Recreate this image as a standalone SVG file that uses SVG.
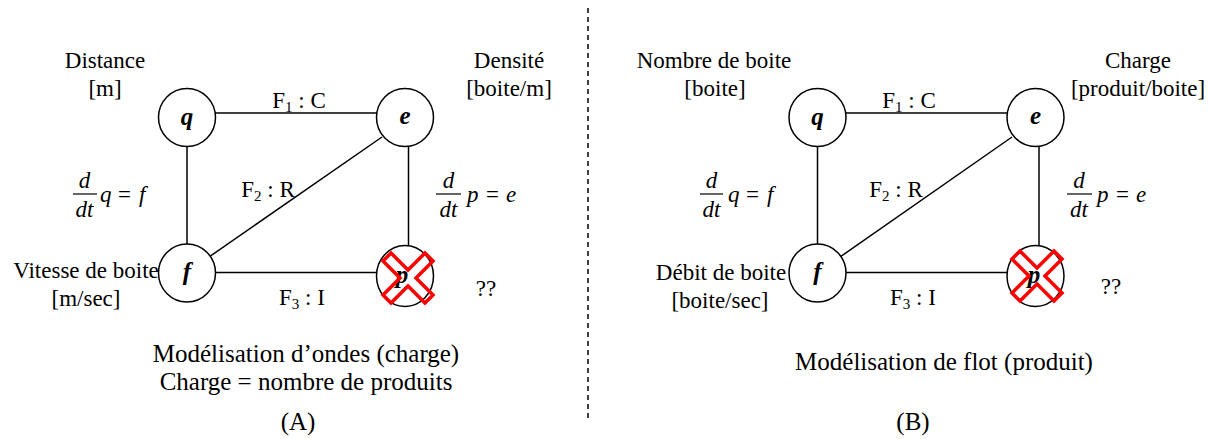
<svg xmlns="http://www.w3.org/2000/svg" width="1209" height="439" viewBox="0 0 1209 439">
<style>
text{font-family:"Liberation Serif","Times New Roman",serif;fill:#000}
.t{font-size:23px;text-anchor:middle}
.cap{font-size:25px;text-anchor:middle}
.n{font-size:25px;font-weight:bold;font-style:italic;text-anchor:middle}
.m{font-size:23px;font-style:italic}
.eq{font-size:23px}
.node{fill:#fff;stroke:#000;stroke-width:1.5}
.edge{stroke:#000;stroke-width:1.5;fill:none}
.x{fill:none;stroke:#ff0000;stroke-width:3.5;stroke-linejoin:miter}
.bar{stroke:#000;stroke-width:1.2}
</style>
<rect width="1209" height="439" fill="#fff"/>
<g id="connectors">
<line class="edge" x1="215" y1="113" x2="377" y2="113"/>
<line class="edge" x1="187" y1="147" x2="187" y2="245"/>
<line class="edge" x1="408.5" y1="146" x2="408.5" y2="246"/>
<line class="edge" x1="209" y1="257" x2="382" y2="137"/>
<line class="edge" x1="215" y1="272.5" x2="377" y2="272.5"/>
<line class="edge" x1="845.5" y1="113" x2="1007.5" y2="113"/>
<line class="edge" x1="817.5" y1="147" x2="817.5" y2="245"/>
<line class="edge" x1="1039" y1="146" x2="1039" y2="246"/>
<line class="edge" x1="840" y1="257" x2="1012" y2="137"/>
<line class="edge" x1="845.5" y1="272.5" x2="1007.5" y2="272.5"/>
<line x1="588" y1="8" x2="588" y2="422" stroke="#000" stroke-width="1.5" stroke-dasharray="5,4"/>
</g>
<g id="node-q-A"><ellipse class="node" cx="187" cy="117.5" rx="28.5" ry="29"/><text class="n" x="187" y="125">q</text></g>
<g id="node-e-A"><ellipse class="node" cx="405" cy="117.5" rx="28.5" ry="29"/><text class="n" x="405" y="124">e</text></g>
<g id="node-f-A"><ellipse class="node" cx="187" cy="273" rx="28.5" ry="29"/><text class="n" x="187" y="280">f</text></g>
<g id="node-p-A"><ellipse class="node" cx="405" cy="276" rx="28.5" ry="30.5"/><text class="n" x="402" y="283">p</text>
<polygon class="x" points="383,261 391,253 408,270 425,253 433,261 416,278 433,295 425,303 408,286 391,303 383,295 400,278"/></g>
<g id="node-q-B"><ellipse class="node" cx="817.5" cy="117.5" rx="28.5" ry="29"/><text class="n" x="817.5" y="125">q</text></g>
<g id="node-e-B"><ellipse class="node" cx="1035.5" cy="117.5" rx="28.5" ry="29"/><text class="n" x="1035.5" y="124">e</text></g>
<g id="node-f-B"><ellipse class="node" cx="817.5" cy="273" rx="28.5" ry="29"/><text class="n" x="817.5" y="280">f</text></g>
<g id="node-p-B"><ellipse class="node" cx="1035.5" cy="276" rx="28.5" ry="30.5"/><text class="n" x="1034" y="283">p</text>
<polygon class="x" points="1012,259 1020,251 1037,268 1054,251 1062,259 1045,276 1062,293 1054,301 1037,284 1020,301 1012,293 1029,276"/></g>
<g id="labels-A">
<text class="t" x="105" y="68">Distance</text>
<text class="t" x="105" y="96">[m]</text>
<text class="t" x="509" y="68">Densité</text>
<text class="t" x="509" y="96">[boite/m]</text>
<text class="t" x="299" y="108">F<tspan font-size="15" dy="4">1</tspan><tspan dy="-4"> : C</tspan></text>
<text class="t" x="268" y="197">F<tspan font-size="15" dy="4">2</tspan><tspan dy="-4"> : R</tspan></text>
<text class="t" x="302" y="305">F<tspan font-size="15" dy="4">3</tspan><tspan dy="-4"> : I</tspan></text>
<text class="t" x="86" y="278">Vitesse de boite</text>
<text class="t" x="86" y="306">[m/sec]</text>
<text class="t" x="486" y="296">??</text>
<text class="m" x="84.5" y="188" text-anchor="middle">d</text>
<line class="bar" x1="73" y1="194" x2="97" y2="194"/>
<text class="m" x="84.5" y="217" text-anchor="middle">dt</text>
<text class="m" x="100" y="202">q</text>
<text class="eq" x="118" y="202">=</text>
<text class="m" x="139" y="202">f</text>
<text class="m" x="448.5" y="188" text-anchor="middle">d</text>
<line class="bar" x1="436" y1="194" x2="461" y2="194"/>
<text class="m" x="448.5" y="217" text-anchor="middle">dt</text>
<text class="m" x="467" y="202">p</text>
<text class="eq" x="486" y="202">=</text>
<text class="m" x="506" y="202">e</text>
<text class="cap" x="306" y="362">Modélisation d’ondes (charge)</text>
<text class="cap" x="306" y="390">Charge = nombre de produits</text>
<text class="cap" x="298" y="430">(A)</text>
</g>
<g id="labels-B">
<text class="t" x="714" y="68">Nombre de boite</text>
<text class="t" x="715" y="96">[boite]</text>
<text class="t" x="1138" y="68">Charge</text>
<text class="t" x="1138" y="96">[produit/boite]</text>
<text class="t" x="909" y="108">F<tspan font-size="15" dy="4">1</tspan><tspan dy="-4"> : C</tspan></text>
<text class="t" x="896" y="197">F<tspan font-size="15" dy="4">2</tspan><tspan dy="-4"> : R</tspan></text>
<text class="t" x="913" y="305">F<tspan font-size="15" dy="4">3</tspan><tspan dy="-4"> : I</tspan></text>
<text class="t" x="721" y="280">Débit de boite</text>
<text class="t" x="720" y="308">[boite/sec]</text>
<text class="t" x="1111" y="294">??</text>
<text class="m" x="711.5" y="188" text-anchor="middle">d</text>
<line class="bar" x1="700" y1="194" x2="723" y2="194"/>
<text class="m" x="711.5" y="217" text-anchor="middle">dt</text>
<text class="m" x="728" y="202">q</text>
<text class="eq" x="746" y="202">=</text>
<text class="m" x="767" y="202">f</text>
<text class="m" x="1079" y="188" text-anchor="middle">d</text>
<line class="bar" x1="1067" y1="194" x2="1092" y2="194"/>
<text class="m" x="1079" y="217" text-anchor="middle">dt</text>
<text class="m" x="1097" y="202">p</text>
<text class="eq" x="1116" y="202">=</text>
<text class="m" x="1136" y="202">e</text>
<text class="cap" x="944" y="370">Modélisation de flot (produit)</text>
<text class="cap" x="913" y="430">(B)</text>
</g>
</svg>
